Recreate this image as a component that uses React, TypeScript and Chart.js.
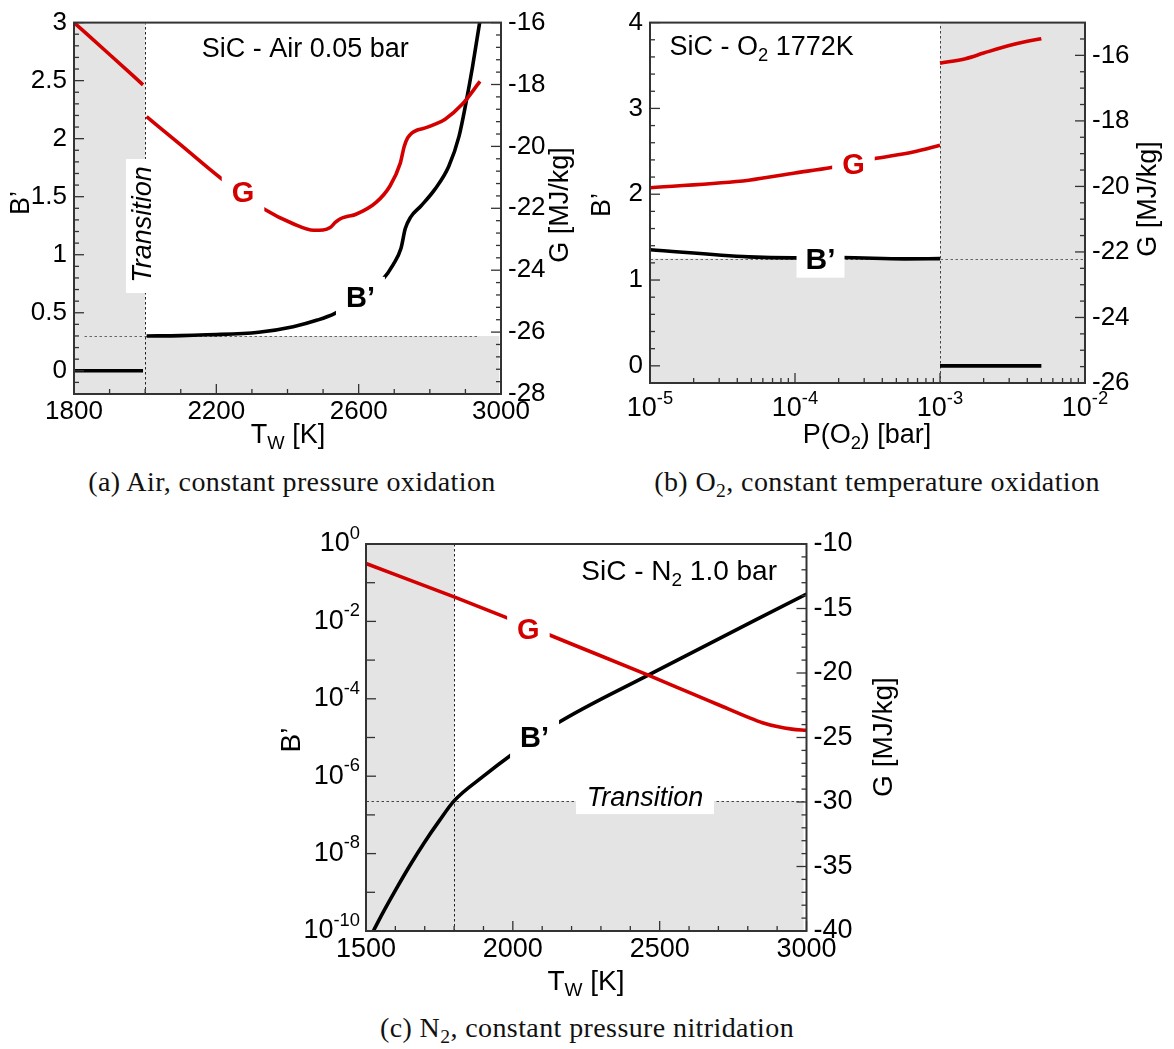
import React, { useEffect, useRef } from 'react';
import { Chart, registerables } from 'chart.js';

Chart.register(...registerables);

const SANS = '"Liberation Sans", Arial, Helvetica, sans-serif';
const SERIF = '"Liberation Serif", "Times New Roman", serif';
const RED = '#d40000';
const BLACK = '#000000';
const SHADE = '#e4e4e4';
const FRAME = '#333333';

// ---------- (a) SiC in air, 0.05 bar: sweep of wall temperature ----------
const airTG1 = [1800, 1900, 1994];
const airG1 = [-16.0, -17.03, -18.01];
const airTG2 = [2004, 2100, 2212, 2334, 2416, 2474, 2500, 2520, 2535, 2550, 2570, 2591, 2649, 2688, 2717, 2728, 2738, 2750, 2765, 2785, 2815, 2843, 2891, 2941];
const airG2 = [-19.04, -19.95, -21.02, -22.02, -22.5, -22.71, -22.7, -22.62, -22.45, -22.33, -22.26, -22.2, -21.81, -21.28, -20.54, -20.0, -19.72, -19.56, -19.47, -19.41, -19.28, -19.12, -18.64, -17.9];
const airTB1 = [1800, 1994];
const airB1 = [0, 0];
const airTB2 = [2004, 2100, 2173, 2319, 2416, 2484, 2532, 2600, 2668, 2697, 2719, 2731, 2746, 2775, 2814, 2853, 2882, 2901, 2920, 2940, 2955];
const airB2 = [0.3, 0.303, 0.31, 0.332, 0.38, 0.437, 0.493, 0.62, 0.789, 0.915, 1.056, 1.225, 1.324, 1.42, 1.563, 1.76, 2.02, 2.3, 2.62, 3.0, 3.3];
const airXTicks = [1800, 2200, 2600, 3000];
const airBTicks = [0, 0.5, 1, 1.5, 2, 2.5, 3];
const airGTicks = [-28, -26, -24, -22, -20, -18, -16];
const airTransitionT = 2000;
const airTransitionB = 0.3;

// ---------- (b) SiC in O2 at 1772 K: sweep of oxygen pressure ----------
const o2PG1 = [1e-5, 4.8e-5, 1.0e-4, 1.78e-4, 3.45e-4, 6.65e-4, 1e-3];
const o2G1 = [-20.04, -19.81, -19.59, -19.42, -19.16, -18.94, -18.74];
const o2PG2 = [1e-3, 1.5e-3, 2.0e-3, 3.0e-3, 4.0e-3, 5.0e-3];
const o2G2 = [-16.24, -16.1, -15.93, -15.7, -15.57, -15.49];
const o2PB1 = [1e-5, 4.8e-5, 9.8e-5, 2.1e-4, 5.7e-4, 1e-3];
const o2B1 = [1.353, 1.27, 1.258, 1.262, 1.247, 1.25];
const o2PB2 = [1e-3, 5e-3];
const o2B2 = [0, 0];
const o2PTicks = [1e-5, 1e-4, 1e-3, 1e-2];
const o2BTicks = [0, 1, 2, 3, 4];
const o2GTicks = [-26, -24, -22, -20, -18, -16];
const o2TransitionP = 1e-3;
const o2TransitionB = 1.25;

// ---------- (c) SiC in N2, 1.0 bar: sweep of wall temperature ----------
const n2TG = [1500, 1800, 2000, 2200, 2461, 2600, 2700, 2800, 2850, 2900, 2950, 3000];
const n2G = [-11.51, -14.1, -15.9, -17.75, -20.17, -21.5, -22.46, -23.42, -23.85, -24.15, -24.35, -24.45];
const n2TB = [1525, 1560, 1600, 1650, 1700, 1750, 1800, 1900, 2000, 2150, 2461, 3000];
const n2B = [1.0e-10, 3.2e-10, 1.12e-9, 5.0e-9, 2.0e-8, 7.1e-8, 2.3e-7, 1.0e-6, 3.8e-6, 2.3e-5, 4.1e-4, 5.1e-2];
const n2TTicks = [1500, 2000, 2500, 3000];
const n2BTicks = [1e0, 1e-2, 1e-4, 1e-6, 1e-8, 1e-10];
const n2BMinorTicks = [1e-1, 1e-3, 1e-5, 1e-7, 1e-9];
const n2GTicks = [-40, -35, -30, -25, -20, -15, -10];
const n2TransitionT = 1800;
const n2TransitionB = 2.3e-7;

type Seg = { t: string; sub?: boolean; sup?: boolean };
type Pt = { x: number; y: number };

const pts = (xs: number[], ys: number[]): Pt[] => xs.map((x, i) => ({ x, y: ys[i] }));

// evenly spaced minor tick positions, leaving out the major ones
function minorSteps(from: number, to: number, step: number, majors: number[]): number[] {
  const out: number[] = [];
  const n = Math.round((to - from) / step);
  for (let i = 0; i <= n; i++) {
    const v = +(from + i * step).toFixed(6);
    if (!majors.some((m) => Math.abs(m - v) < 1e-9)) out.push(v);
  }
  return out;
}
function logMinor(e0: number, e1: number): number[] {
  const out: number[] = [];
  for (let e = e0; e < e1; e++) for (let m = 2; m <= 9; m++) out.push(m * Math.pow(10, e));
  return out;
}

function fontStr(size: number, bold = false, italic = false) {
  return `${italic ? 'italic ' : ''}${bold ? 'bold ' : ''}${size}px ${SANS}`;
}
const SMALL = 0.68;
function richWidth(ctx: CanvasRenderingContext2D, segs: Seg[], size: number, bold = false, italic = false) {
  let w = 0;
  for (const s of segs) {
    ctx.font = fontStr(s.sub || s.sup ? size * SMALL : size, bold, italic);
    w += ctx.measureText(s.t).width;
  }
  return w;
}
function drawRich(ctx: CanvasRenderingContext2D, segs: Seg[], x: number, y: number, size: number, align: string, color: string, bold = false, italic = false) {
  const w = richWidth(ctx, segs, size, bold, italic);
  let cx = align === 'center' ? x - w / 2 : align === 'right' ? x - w : x;
  ctx.fillStyle = color;
  ctx.textBaseline = 'middle';
  ctx.textAlign = 'left';
  for (const s of segs) {
    const small = s.sub || s.sup;
    ctx.font = fontStr(small ? size * SMALL : size, bold, italic);
    const dy = s.sub ? size * 0.3 : s.sup ? -size * 0.38 : 0;
    ctx.fillText(s.t, cx, y + dy);
    cx += ctx.measureText(s.t).width;
  }
  return w;
}

interface AxisSpec { min: number; max: number; major: number[]; minor: number[]; log?: boolean; labels?: boolean; minorLen?: number }
interface TextItem {
  segs: Seg[]; at: [number, number]; axis?: 'y' | 'y2'; size: number; color?: string;
  bold?: boolean; italic?: boolean; align?: string; rotate?: boolean;
  box?: { w?: number; h: number; padX?: number };
}
interface PageText { segs: Seg[]; x: number; y: number; size: number; rotate?: boolean }
interface Spec {
  id: string; left: number; top: number; width: number; height: number;
  plot: { left: number; right: number; top: number; bottom: number };
  tickSize: number;
  x: AxisSpec; y: AxisSpec; y2: AxisSpec;
  series: { data: Pt[]; color: string; axis: 'y' | 'y2' }[];
  shades: { x0: number; x1: number; y0: number; y1: number }[];
  dotted: { x0: number; x1: number; y0: number; y1: number; color: string }[];
  whiteBoxes: { x0: number; x1: number; y0: number; y1: number }[];
  texts: TextItem[];
  titles: PageText[];
  logLabels?: { axis: 'x' | 'y'; values: number[]; size: number; pos: number };
}

const TITLE_B: Seg[] = [{ t: 'B’' }];
const TITLE_G: Seg[] = [{ t: 'G [MJ/kg]' }];
const TITLE_TW: Seg[] = [{ t: 'T' }, { t: 'W', sub: true }, { t: ' [K]' }];
const TITLE_PO2: Seg[] = [{ t: 'P(O' }, { t: '2', sub: true }, { t: ') [bar]' }];

const specA: Spec = {
  id: 'air', left: 0, top: 0, width: 590, height: 455,
  plot: { left: 74, right: 501, top: 17, bottom: 394 },
  tickSize: 26,
  x: { min: 1800, max: 3000, major: airXTicks, minor: minorSteps(1800, 3000, 100, airXTicks), labels: true },
  y: { min: -0.2, max: 3, major: airBTicks, minor: minorSteps(-0.1, 2.9, 0.1, airBTicks), labels: true },
  y2: { min: -28, max: -16, major: airGTicks, minor: minorSteps(-27.6, -16.4, 0.4, airGTicks), labels: true },
  series: [
    { data: pts(airTG1, airG1), color: RED, axis: 'y2' },
    { data: pts(airTG2, airG2), color: RED, axis: 'y2' },
    { data: pts(airTB1, airB1), color: BLACK, axis: 'y' },
    { data: pts(airTB2, airB2), color: BLACK, axis: 'y' },
  ],
  shades: [
    { x0: 1800, x1: airTransitionT, y0: -0.2, y1: 3 },
    { x0: airTransitionT, x1: 2995, y0: -0.2, y1: airTransitionB },
  ],
  dotted: [
    { x0: airTransitionT, x1: airTransitionT, y0: -0.2, y1: 3, color: '#222' },
    { x0: 1829, x1: 2935, y0: airTransitionB, y1: airTransitionB, color: '#666' },
  ],
  whiteBoxes: [{ x0: 1946, x1: 2030, y0: 0.67, y1: 1.825 }],
  texts: [
    { segs: [{ t: 'Transition' }], at: [1994, 1.26], size: 27, italic: true, rotate: true },
    { segs: [{ t: 'SiC - Air 0.05 bar' }], at: [2159, 2.77], size: 27, align: 'left' },
    { segs: [{ t: 'G' }], at: [2275, 1.52], size: 29, bold: true, color: RED, box: { h: 38, padX: 10 } },
    { segs: [{ t: 'B’' }], at: [2605, 0.62], size: 29, bold: true, box: { h: 44, padX: 10 } },
  ],
  titles: [
    { segs: TITLE_B, x: 22, y: 203, size: 27, rotate: true },
    { segs: TITLE_G, x: 561, y: 205, size: 27, rotate: true },
    { segs: TITLE_TW, x: 288, y: 436, size: 27 },
  ],
};

const specB: Spec = {
  id: 'o2', left: 580, top: 0, width: 594, height: 455,
  plot: { left: 650, right: 1085, top: 15, bottom: 383 },
  tickSize: 26,
  x: { min: 1e-5, max: 1e-2, major: o2PTicks, minor: logMinor(-5, -2), log: true, labels: false },
  y: { min: -0.2, max: 4, major: o2BTicks, minor: minorSteps(0.2, 3.8, 0.2, o2BTicks), labels: true },
  y2: { min: -26, max: -15, major: o2GTicks, minor: minorSteps(-25.5, -15.5, 0.5, o2GTicks), labels: true },
  series: [
    { data: pts(o2PG1, o2G1), color: RED, axis: 'y2' },
    { data: pts(o2PG2, o2G2), color: RED, axis: 'y2' },
    { data: pts(o2PB1, o2B1), color: BLACK, axis: 'y' },
    { data: pts(o2PB2, o2B2), color: BLACK, axis: 'y' },
  ],
  shades: [
    { x0: 1e-5, x1: o2TransitionP, y0: -0.2, y1: o2TransitionB },
    { x0: o2TransitionP, x1: 1e-2, y0: -0.2, y1: 4 },
  ],
  dotted: [
    { x0: o2TransitionP, x1: o2TransitionP, y0: -0.2, y1: 4, color: '#444' },
    { x0: 1e-5, x1: 1e-2, y0: o2TransitionB, y1: o2TransitionB, color: '#666' },
  ],
  whiteBoxes: [],
  texts: [
    { segs: [{ t: 'SiC - O' }, { t: '2', sub: true }, { t: ' 1772K' }], at: [1.365e-5, 3.71], size: 27, align: 'left' },
    { segs: [{ t: 'G' }], at: [2.53e-4, 2.325], size: 29, bold: true, color: RED, box: { h: 36, padX: 10 } },
    { segs: [{ t: 'B’' }], at: [1.5e-4, 1.22], size: 30, bold: true, box: { w: 48, h: 33 } },
  ],
  titles: [
    { segs: TITLE_B, x: 603, y: 205, size: 27, rotate: true },
    { segs: TITLE_G, x: 1149, y: 199, size: 27, rotate: true },
    { segs: TITLE_PO2, x: 867, y: 436, size: 27 },
  ],
  logLabels: { axis: 'x', values: o2PTicks, size: 27, pos: 409 },
};

const specC: Spec = {
  id: 'n2', left: 270, top: 520, width: 640, height: 490,
  plot: { left: 366, right: 806.5, top: 544, bottom: 931 },
  tickSize: 27,
  x: { min: 1500, max: 3000, major: n2TTicks, minor: minorSteps(1500, 3000, 100, n2TTicks), labels: true },
  y: { min: 1e-10, max: 1, major: n2BTicks, minor: n2BMinorTicks, log: true, labels: false, minorLen: 9 },
  y2: { min: -40, max: -10, major: n2GTicks, minor: minorSteps(-39, -11, 1, n2GTicks), labels: true },
  series: [
    { data: pts(n2TG, n2G), color: RED, axis: 'y2' },
    { data: pts(n2TB, n2B), color: BLACK, axis: 'y' },
  ],
  shades: [
    { x0: 1500, x1: n2TransitionT, y0: 1e-10, y1: 1 },
    { x0: n2TransitionT, x1: 2990, y0: 1e-10, y1: n2TransitionB },
  ],
  dotted: [
    { x0: n2TransitionT, x1: n2TransitionT, y0: 1e-10, y1: 1, color: '#222' },
    { x0: 1500, x1: 3000, y0: n2TransitionB, y1: n2TransitionB, color: '#444' },
  ],
  whiteBoxes: [{ x0: 2215, x1: 2685, y0: 1.05e-7, y1: 5.1e-7 }],
  texts: [
    { segs: [{ t: 'Transition' }], at: [2450, 2.7e-7], size: 27, italic: true },
    { segs: [{ t: 'SiC - N' }, { t: '2', sub: true }, { t: ' 1.0 bar' }], at: [2233, 0.19], size: 28, align: 'left' },
    { segs: [{ t: 'G' }], at: [2053, -16.73], axis: 'y2', size: 29, bold: true, color: RED, box: { h: 38, padX: 10 } },
    { segs: [{ t: 'B’' }], at: [2074, 9e-6], size: 29, bold: true, box: { h: 40, padX: 10 } },
  ],
  titles: [
    { segs: TITLE_B, x: 292, y: 740, size: 28, rotate: true },
    { segs: TITLE_G, x: 884, y: 737, size: 28, rotate: true },
    { segs: TITLE_TW, x: 586, y: 982, size: 28 },
  ],
  logLabels: { axis: 'y', values: n2BTicks, size: 27, pos: 360 },
};

const SPECS = [specA, specB, specC];

function decoPlugin(spec: Spec) {
  const ox = spec.left;
  const oy = spec.top;
  return {
    id: 'panelDeco',
    beforeDatasetsDraw(chart: any) {
      const { ctx, chartArea: ca, scales } = chart;
      const xs = scales.x;
      const ys = scales.y;
      ctx.save();
      ctx.beginPath();
      ctx.rect(ca.left, ca.top, ca.right - ca.left, ca.bottom - ca.top);
      ctx.clip();
      ctx.fillStyle = SHADE;
      for (const r of spec.shades) {
        const x0 = xs.getPixelForValue(r.x0);
        const x1 = xs.getPixelForValue(r.x1);
        const y0 = ys.getPixelForValue(r.y0);
        const y1 = ys.getPixelForValue(r.y1);
        ctx.fillRect(Math.min(x0, x1), Math.min(y0, y1), Math.abs(x1 - x0), Math.abs(y1 - y0));
      }
      ctx.lineWidth = 1;
      ctx.setLineDash([2.5, 2.5]);
      for (const l of spec.dotted) {
        ctx.strokeStyle = l.color;
        const x0 = Math.round(xs.getPixelForValue(l.x0)) + 0.5;
        const x1 = Math.round(xs.getPixelForValue(l.x1)) + 0.5;
        const y0 = Math.round(ys.getPixelForValue(l.y0)) + 0.5;
        const y1 = Math.round(ys.getPixelForValue(l.y1)) + 0.5;
        ctx.beginPath();
        ctx.moveTo(x0, y0);
        ctx.lineTo(x1, y1);
        ctx.stroke();
      }
      ctx.restore();
    },
    afterDatasetsDraw(chart: any) {
      const { ctx, chartArea: ca, scales } = chart;
      const xs = scales.x;
      ctx.save();
      ctx.fillStyle = '#ffffff';
      for (const b of spec.whiteBoxes) {
        const x0 = xs.getPixelForValue(b.x0);
        const x1 = xs.getPixelForValue(b.x1);
        const y0 = scales.y.getPixelForValue(b.y0);
        const y1 = scales.y.getPixelForValue(b.y1);
        ctx.fillRect(Math.min(x0, x1), Math.min(y0, y1), Math.abs(x1 - x0), Math.abs(y1 - y0));
      }
      for (const t of spec.texts) {
        const ys = scales[t.axis || 'y'];
        const px = xs.getPixelForValue(t.at[0]);
        const py = ys.getPixelForValue(t.at[1]);
        const color = t.color || BLACK;
        if (t.box) {
          const tw = richWidth(ctx, t.segs, t.size, t.bold, t.italic);
          const w = t.box.w ?? tw + 2 * (t.box.padX ?? 8);
          ctx.fillStyle = '#ffffff';
          ctx.fillRect(px - w / 2, py - t.box.h / 2, w, t.box.h);
        }
        if (t.rotate) {
          ctx.save();
          ctx.translate(px, py);
          ctx.rotate(-Math.PI / 2);
          drawRich(ctx, t.segs, 0, 0, t.size, 'center', color, t.bold, t.italic);
          ctx.restore();
        } else {
          drawRich(ctx, t.segs, px, py, t.size, t.align || 'center', color, t.bold, t.italic);
        }
      }

      // plot frame
      ctx.strokeStyle = FRAME;
      ctx.lineWidth = 2;
      ctx.setLineDash([]);
      ctx.strokeRect(ca.left, ca.top, ca.right - ca.left, ca.bottom - ca.top);

      // inward tick marks
      ctx.lineWidth = 1.3;
      const MAJ = 10;
      const tickX = (vals: number[], len: number) => {
        for (const v of vals) {
          const p = xs.getPixelForValue(v);
          if (p < ca.left - 0.5 || p > ca.right + 0.5) continue;
          ctx.beginPath();
          ctx.moveTo(p, ca.bottom);
          ctx.lineTo(p, ca.bottom - len);
          ctx.stroke();
        }
      };
      const tickY = (scale: any, vals: number[], len: number, fromRight: boolean) => {
        for (const v of vals) {
          const p = scale.getPixelForValue(v);
          if (p < ca.top - 0.5 || p > ca.bottom + 0.5) continue;
          const x0 = fromRight ? ca.right : ca.left;
          ctx.beginPath();
          ctx.moveTo(x0, p);
          ctx.lineTo(fromRight ? x0 - len : x0 + len, p);
          ctx.stroke();
        }
      };
      tickX(spec.x.major, MAJ);
      tickX(spec.x.minor, spec.x.minorLen ?? 5);
      tickY(scales.y, spec.y.major, MAJ, false);
      tickY(scales.y, spec.y.minor, spec.y.minorLen ?? 5, false);
      tickY(scales.y2, spec.y2.major, MAJ, true);
      tickY(scales.y2, spec.y2.minor, spec.y2.minorLen ?? 5, true);

      // power-of-ten tick labels for logarithmic axes
      if (spec.logLabels) {
        const ll = spec.logLabels;
        for (const v of ll.values) {
          const e = Math.round(Math.log10(v));
          const segs: Seg[] = [{ t: '10' }, { t: String(e), sup: true }];
          if (ll.axis === 'x') {
            drawRich(ctx, segs, xs.getPixelForValue(v), ll.pos - oy, ll.size, 'center', BLACK);
          } else {
            drawRich(ctx, segs, ll.pos - ox, scales.y.getPixelForValue(v), ll.size, 'right', BLACK);
          }
        }
      }

      // axis titles
      for (const t of spec.titles) {
        if (t.rotate) {
          ctx.save();
          ctx.translate(t.x - ox, t.y - oy);
          ctx.rotate(-Math.PI / 2);
          drawRich(ctx, t.segs, 0, 0, t.size, 'center', BLACK);
          ctx.restore();
        } else {
          drawRich(ctx, t.segs, t.x - ox, t.y - oy, t.size, 'center', BLACK);
        }
      }
      ctx.restore();
    },
  };
}

function axisOptions(a: AxisSpec, position: string, tickSize: number, fit: (s: any) => void, padding: number) {
  return {
    type: a.log ? 'logarithmic' : 'linear',
    position,
    min: a.min,
    max: a.max,
    grid: { display: false, drawTicks: false },
    border: { display: false },
    ticks: {
      display: a.labels !== false,
      autoSkip: false,
      maxRotation: 0,
      minRotation: 0,
      padding,
      color: BLACK,
      font: { family: SANS, size: tickSize },
      callback: (v: number) => String(v),
    },
    afterBuildTicks: (s: any) => {
      s.ticks = a.major.map((v) => ({ value: v }));
    },
    afterFit: fit,
  };
}

function buildConfig(spec: Spec) {
  const p = spec.plot;
  return {
    type: 'line',
    data: {
      datasets: spec.series.map((s) => ({
        data: s.data,
        borderColor: s.color,
        backgroundColor: s.color,
        borderWidth: 3.6,
        pointRadius: 0,
        fill: false,
        yAxisID: s.axis,
        cubicInterpolationMode: 'monotone',
      })),
    },
    options: {
      animation: false,
      responsive: false,
      maintainAspectRatio: false,
      devicePixelRatio: 1,
      events: [],
      layout: { padding: { top: p.top - spec.top, left: 0, right: 0, bottom: 0 } },
      plugins: { legend: { display: false }, tooltip: { enabled: false }, title: { display: false } },
      scales: {
        x: axisOptions(spec.x, 'bottom', spec.tickSize, (s: any) => { s.height = spec.top + spec.height - p.bottom; }, 2),
        y: axisOptions(spec.y, 'left', spec.tickSize, (s: any) => { s.width = p.left - spec.left; }, 7),
        y2: axisOptions(spec.y2, 'right', spec.tickSize, (s: any) => { s.width = spec.left + spec.width - p.right; }, 7),
      },
    },
    plugins: [decoPlugin(spec)],
  };
}

function Panel({ spec }: { spec: Spec }) {
  const ref = useRef<HTMLCanvasElement | null>(null);
  useEffect(() => {
    if (!ref.current) return;
    const chart = new Chart(ref.current, buildConfig(spec) as any);
    return () => chart.destroy();
  }, [spec]);
  return (
    <canvas
      ref={ref}
      width={spec.width}
      height={spec.height}
      style={{ position: 'absolute', left: spec.left, top: spec.top, width: spec.width, height: spec.height }}
    />
  );
}

const subStyle: React.CSSProperties = { fontSize: '0.7em', verticalAlign: '-0.3em', lineHeight: 0 };

function Caption({ cx, cy, children }: { cx: number; cy: number; children: React.ReactNode }) {
  return (
    <div
      style={{
        position: 'absolute', left: cx - 350, top: cy - 16, width: 700, height: 32,
        lineHeight: '32px', textAlign: 'center', whiteSpace: 'nowrap',
        fontFamily: SERIF, fontSize: 28, letterSpacing: '0.4px', color: '#111',
      }}
    >
      {children}
    </div>
  );
}

export default function App() {
  return (
    <div style={{ position: 'absolute', left: 0, top: 0, width: 1174, height: 1049, background: '#ffffff', overflow: 'hidden' }}>
      {SPECS.map((s) => (
        <Panel key={s.id} spec={s} />
      ))}
      <Caption cx={292} cy={482}>(a) Air, constant pressure oxidation</Caption>
      <Caption cx={877} cy={482}>
        (b) O<sub style={subStyle}>2</sub>, constant temperature oxidation
      </Caption>
      <Caption cx={587} cy={1028}>
        (c) N<sub style={subStyle}>2</sub>, constant pressure nitridation
      </Caption>
    </div>
  );
}
